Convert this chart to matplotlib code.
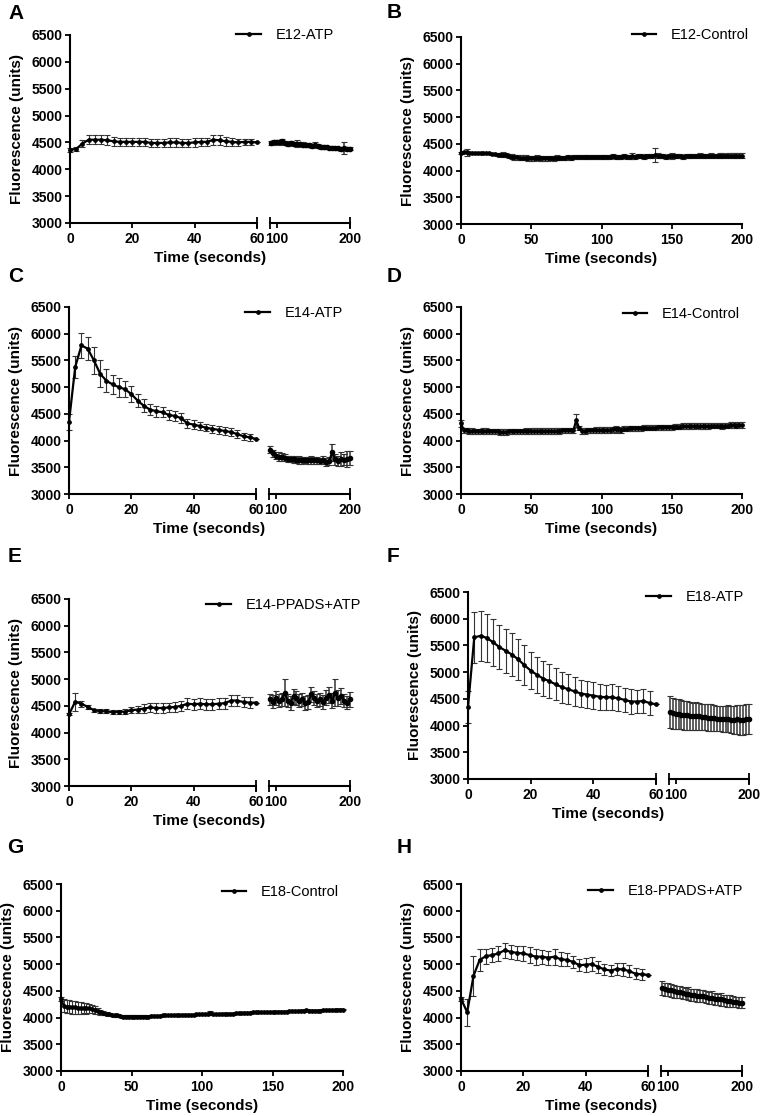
import numpy as np
import matplotlib
matplotlib.use('Agg')
from matplotlib import pyplot as plt

plt.rcParams['font.family'] = ['Liberation Sans', 'DejaVu Sans']
plt.rcParams['font.weight'] = 'bold'

# time points (s)
T_SHORT = np.arange(0, 61, 2)      # 0..60, first segment of broken axes
T_LATE = np.arange(92, 201, 4)     # late segment of broken axes
T_FULL = np.arange(0, 201, 2)      # control recordings

# A: E12-ATP
A1 = [4360, 4380, 4480, 4550, 4550, 4550, 4540, 4520, 4510, 4510, 4510, 4510, 4510, 4490, 4490, 4490,
      4500, 4500, 4490, 4490, 4500, 4510, 4510, 4550, 4540, 4520, 4510, 4500, 4510, 4510, 4500]
A1_ERR = [30, 40, 60, 80, 80, 80, 90, 80, 80, 80, 80, 80, 80, 70, 80, 80, 90, 90, 80, 80, 80, 80, 80, 90,
          90, 80, 70, 60, 60, 60, 0]
A2 = [4490, 4500, 4510, 4500, 4520, 4490, 4480, 4490, 4470, 4480, 4470, 4460, 4450, 4450, 4440, 4460,
      4430, 4420, 4420, 4410, 4400, 4400, 4390, 4390, 4380, 4400, 4380, 4380]
A2_ERR = [40, 40, 40, 40, 50, 40, 40, 40, 40, 60, 40, 40, 40, 40, 40, 40, 40, 40, 40, 30, 30, 30, 30, 30,
          40, 110, 40, 30]

# B: E12-Control
B = [4330, 4340, 4340, 4330, 4330, 4320, 4320, 4320, 4320, 4320, 4320, 4310, 4310, 4300, 4300, 4300,
     4290, 4270, 4260, 4250, 4250,
     4240, 4240, 4240, 4230, 4230, 4230, 4240, 4230, 4230, 4230, 4230, 4240, 4230, 4240, 4240,
     4240, 4240, 4250, 4240, 4250, 4250, 4250, 4250, 4250, 4260, 4250, 4260, 4260, 4260, 4260,
     4260, 4260, 4260, 4270, 4260, 4260, 4260, 4270, 4260, 4260, 4270, 4260, 4270, 4270, 4260, 4270,
     4270, 4270, 4290, 4280,
     4270, 4270, 4260, 4270, 4270, 4270, 4270, 4270, 4260, 4270, 4270, 4270, 4270, 4270, 4280, 4270,
     4270, 4270, 4280, 4270, 4270, 4280, 4280, 4270, 4280, 4280, 4280, 4280, 4280, 4280]
B_ERR = [20, 20, 70, 20, 15, 15, 15, 15, 15, 15, 15, 15, 20, 20, 20, 40,
         40, 40, 50, 50, 50,
         50, 50, 50, 50, 50, 50, 50, 50, 50, 50, 50, 40, 50, 50, 40,
         40, 40, 50, 40, 40, 40, 40, 40, 40, 40, 40, 40, 40, 40, 40,
         40, 40, 40, 40, 40, 40, 40, 40, 40, 40, 50, 40, 40, 40, 40, 40, 40, 40, 130, 50,
         40, 40, 40, 40, 50, 40, 40, 40, 40, 40, 40, 40, 40, 40, 40, 40, 40, 40, 40, 40,
         40, 40, 40, 40, 40, 40, 40, 40, 40, 40]

# C: E14-ATP
C1 = [4350, 5380, 5780, 5720, 5500, 5250, 5120, 5050, 5000, 4960, 4870, 4750, 4650, 4580, 4550, 4530,
      4480, 4460, 4420, 4320, 4300, 4270, 4240, 4220, 4200, 4180, 4160, 4120, 4080, 4060, 4030]
C1_ERR = [150, 200, 230, 220, 250, 250, 220, 180, 180, 150, 150, 130, 120, 100, 100, 90, 90, 90, 90, 80,
          80, 80, 70, 70, 70, 70, 70, 70, 70, 60, 0]
C2 = [3830, 3760, 3720, 3700, 3690, 3680, 3660, 3650, 3650, 3640, 3640, 3630, 3640, 3630, 3640, 3630,
      3630, 3620, 3640, 3600, 3620, 3780, 3650, 3620, 3660, 3640, 3660, 3680]
C2_ERR = [60, 60, 60, 80, 80, 60, 60, 60, 70, 60, 70, 60, 60, 60, 70, 60, 60, 60, 70, 70, 80, 160, 100,
          90, 130, 100, 150, 130]

# D: E14-Control
D = [4320, 4190, 4190, 4180, 4180, 4170, 4170, 4170, 4180, 4180, 4170,
     4170, 4170, 4170, 4160, 4160, 4160, 4170, 4170, 4170, 4170,
     4170, 4170, 4180, 4170, 4180, 4180, 4180, 4180, 4180, 4180,
     4180, 4180, 4180, 4180, 4180, 4190, 4190, 4190, 4190, 4190,
     4380, 4240, 4180, 4180, 4190, 4190, 4190, 4200, 4200, 4200,
     4200, 4200, 4200, 4210, 4210, 4210, 4200, 4220, 4220, 4230,
     4230, 4230, 4230, 4230, 4240, 4240, 4240, 4240, 4240, 4250,
     4250, 4250, 4250, 4250, 4250, 4260, 4260, 4260, 4270, 4270,
     4270, 4270, 4270, 4280, 4270, 4270, 4270, 4270, 4280, 4280,
     4280, 4280, 4270, 4280, 4280, 4290, 4290, 4280, 4290, 4290]
D_ERR = [60, 50, 50, 50, 50, 50, 50, 50, 50, 50, 50,
         50, 50, 50, 50, 50, 50, 50, 50, 50, 50,
         50, 50, 50, 50, 50, 50, 50, 50, 50, 50,
         50, 50, 50, 50, 50, 50, 50, 50, 50, 50,
         120, 40, 50, 50, 50, 50, 50, 50, 50, 50,
         50, 50, 50, 50, 70, 50, 50, 50, 50, 50,
         50, 50, 50, 50, 50, 50, 50, 50, 50, 50,
         50, 50, 50, 50, 50, 50, 50, 50, 50, 50,
         50, 50, 50, 50, 50, 50, 50, 50, 50, 50,
         50, 50, 50, 50, 50, 50, 50, 50, 50, 50]

# E: E14-PPADS+ATP
E1 = [4340, 4580, 4540, 4480, 4420, 4400, 4400, 4380, 4390, 4390, 4420, 4430, 4450, 4470, 4460, 4460,
      4470, 4480, 4500, 4540, 4530, 4540, 4530, 4530, 4540, 4550, 4600, 4600, 4570, 4560, 4560]
E1_ERR = [20, 170, 60, 30, 30, 40, 40, 40, 40, 50, 60, 70, 80, 90, 90, 90, 90, 90, 90, 100, 100, 100, 100,
          100, 100, 100, 110, 110, 100, 100, 0]
E2 = [4620, 4580, 4650, 4600, 4620, 4750, 4600, 4560, 4680, 4640, 4600, 4620, 4560, 4580, 4720, 4640,
      4600, 4620, 4580, 4650, 4700, 4600, 4750, 4640, 4680, 4600, 4560, 4620]
E2_ERR = [110, 120, 130, 120, 120, 250, 130, 130, 140, 130, 120, 130, 130, 130, 140, 130, 120, 130, 130,
          140, 150, 140, 250, 150, 150, 130, 120, 140]

# F: E18-ATP
F1 = [4350, 5650, 5680, 5640, 5560, 5470, 5400, 5330, 5240, 5130, 5030, 4950, 4880, 4830, 4770, 4720,
      4680, 4640, 4600, 4580, 4560, 4540, 4530, 4530, 4510, 4480, 4450, 4450, 4460, 4420, 4400]
F1_ERR = [300, 480, 470, 450, 440, 420, 410, 400, 380, 370, 350, 340, 330, 320, 300, 290, 280, 270, 260,
          250, 250, 240, 230, 240, 230, 230, 230, 220, 230, 230, 0]
F2 = [4250, 4230, 4210, 4220, 4200, 4190, 4190, 4180, 4170, 4180, 4170, 4160, 4160, 4150, 4150, 4140,
      4130, 4130, 4120, 4120, 4130, 4110, 4110, 4120, 4100, 4110, 4120, 4130]
F2_ERR = [300, 290, 280, 280, 270, 270, 270, 260, 260, 260, 260, 250, 250, 250, 250, 250, 240, 240, 240,
          240, 250, 250, 260, 270, 280, 280, 280, 280]

# G: E18-Control
G = [4350, 4220, 4200, 4200, 4190, 4190, 4180, 4180, 4180, 4170, 4170,
     4160, 4140, 4120, 4100, 4080, 4070, 4060, 4050, 4040, 4040,
     4030, 4020, 4020, 4020, 4020, 4020, 4020, 4020, 4020, 4020,
     4020, 4030, 4030, 4030, 4030, 4040, 4040, 4040, 4040, 4040,
     4050, 4040, 4050, 4050, 4050, 4050, 4050, 4060, 4060, 4060,
     4060, 4070, 4090, 4060, 4060, 4060, 4070, 4070, 4070, 4070,
     4070, 4080, 4080, 4080, 4090, 4090, 4090, 4100, 4100, 4100,
     4100, 4100, 4100, 4100, 4100, 4110, 4110, 4110, 4110, 4110,
     4120, 4120, 4120, 4120, 4130, 4130, 4140, 4130, 4130, 4130,
     4130, 4130, 4140, 4140, 4140, 4140, 4140, 4150, 4150, 4150]
G_ERR = [40, 120, 120, 120, 120, 120, 110, 110, 100, 100, 90,
         80, 70, 60, 50, 40, 30, 25, 20, 20, 20,
         20, 20, 20, 20, 20, 20, 20, 20, 20, 20,
         15, 15, 15, 15, 15, 15, 15, 15, 15, 15,
         15, 15, 15, 15, 15, 15, 15, 15, 15, 15,
         15, 15, 40, 15, 15, 15, 15, 15, 15, 15,
         15, 15, 15, 15, 15, 15, 15, 15, 15, 15,
         15, 15, 15, 15, 15, 15, 15, 15, 15, 15,
         15, 15, 15, 15, 15, 15, 15, 15, 15, 15,
         15, 15, 15, 15, 15, 15, 15, 15, 15, 15]

# H: E18-PPADS+ATP
H1 = [4350, 4100, 4780, 5080, 5150, 5170, 5200, 5260, 5230, 5210, 5200, 5170, 5140, 5140, 5120, 5140,
      5090, 5080, 5040, 4980, 4990, 5000, 4950, 4900, 4880, 4910, 4900, 4870, 4820, 4810, 4800]
H1_ERR = [40, 250, 380, 200, 140, 130, 140, 140, 130, 130, 140, 150, 150, 130, 130, 150, 130, 120, 110,
          110, 130, 130, 110, 110, 110, 120, 120, 110, 100, 100, 0]
H2 = [4560, 4530, 4520, 4510, 4490, 4480, 4480, 4460, 4450, 4450, 4420, 4420, 4410, 4400, 4400, 4380,
      4370, 4370, 4350, 4340, 4340, 4320, 4310, 4310, 4300, 4290, 4280, 4280]
H2_ERR = [130, 120, 120, 120, 120, 110, 110, 110, 110, 120, 110, 110, 120, 110, 110, 110, 110, 120, 110,
          110, 120, 110, 110, 110, 110, 100, 110, 100]

Y_TICKS = [3000, 3500, 4000, 4500, 5000, 5500, 6000, 6500]

W, H = 761, 1116
fig = plt.figure(figsize=(W / 100, H / 100), dpi=100)


def px_axes(left, right, top, bottom):
    return fig.add_axes([left / W, 1 - bottom / H, (right - left) / W, (bottom - top) / H])


def style(ax, yaxis=True):
    for s in ['top', 'right']:
        ax.spines[s].set_visible(False)
    ax.spines['bottom'].set_linewidth(1.5)
    ax.spines['left'].set_linewidth(1.5)
    ax.patch.set_alpha(0)
    ax.set_ylim(3000, 6500)
    ax.tick_params(which='major', direction='out', length=3.5, width=1.3, labelsize=10, pad=2)
    ax.tick_params(axis='x', which='major', pad=3)
    ax.tick_params(which='minor', direction='inout', length=8, width=1.3)
    if yaxis:
        ax.set_yticks(Y_TICKS)
    else:
        ax.spines['left'].set_visible(False)
        ax.tick_params(axis='y', which='both', left=False, labelleft=False)


def draw(ax, t, y, e, dense=False):
    ax.errorbar(t, y, yerr=e, fmt='none', ecolor='#333333', elinewidth=1.1 if dense else 0.8,
                capsize=2.0, capthick=0.8, clip_on=False, zorder=2)
    line, = ax.plot(t, y, color='black', lw=1.6, marker='o', ms=3.0 if dense else 2.4,
                    clip_on=False, zorder=3)
    return line


def labels(letter, name, line, left, right, top, bottom, lx, ly, leg_x, leg_y):
    fig.text(lx / W, 1 - ly / H, letter, fontsize=15, fontweight='bold', ha='left', va='top')
    fig.text((left + right) / 2 / W, 1 - (bottom + 35) / H, 'Time (seconds)',
             fontsize=11, ha='center', va='center')
    fig.text((left - 53) / W, 1 - (top + bottom) / 2 / H, 'Fluorescence (units)',
             fontsize=11, rotation=90, ha='center', va='center')
    fig.legend([line], [name], loc='center right', bbox_to_anchor=(leg_x / W, 1 - leg_y / H),
               bbox_transform=fig.transFigure, frameon=False, borderaxespad=0, borderpad=0,
               handlelength=1.7, handletextpad=1.0, prop={'weight': 'normal', 'size': 10.5})


def broken_panel(letter, name, pos, s1, e1, s2, e2, lpos, legpos):
    left, mid1, mid2, right, top, bottom = pos
    ax1 = px_axes(left, mid1, top, bottom)
    ax2 = px_axes(mid2, right, top, bottom)
    style(ax1)
    style(ax2, yaxis=False)
    ax1.set_xlim(0, 60)
    ax2.set_xlim(91, 200)
    ax1.set_xticks([0, 20, 40, 60])
    ax1.set_xticks([60], minor=True)
    ax2.set_xticks([100, 200])
    ax2.set_xticks([91, 200], minor=True)
    ax1.xaxis.remove_overlapping_locs = False
    ax2.xaxis.remove_overlapping_locs = False
    line = draw(ax1, T_SHORT, s1, e1)
    draw(ax2, T_LATE, s2, e2, dense=True)
    labels(letter, name, line, left, right, top, bottom, lpos[0], lpos[1], legpos[0], legpos[1])


def full_panel(letter, name, pos, y, e, lpos, legpos):
    left, right, top, bottom = pos
    ax = px_axes(left, right, top, bottom)
    style(ax)
    ax.set_xlim(0, 200)
    ax.set_xticks([0, 50, 100, 150, 200])
    line = draw(ax, T_FULL, y, e)
    labels(letter, name, line, left, right, top, bottom, lpos[0], lpos[1], legpos[0], legpos[1])


broken_panel('A', 'E12-ATP', (70, 257, 270, 350, 35, 223), A1, A1_ERR, A2, A2_ERR, (8, 4), (334, 35))
full_panel('B', 'E12-Control', (461, 742, 37, 224), B, B_ERR, (387, 3), (749, 35))
broken_panel('C', 'E14-ATP', (69, 256, 269, 350, 307, 494), C1, C1_ERR, C2, C2_ERR, (8, 267), (343, 313))
full_panel('D', 'E14-Control', (461, 742, 307, 494), D, D_ERR, (387, 267), (740, 314))
broken_panel('E', 'E14-PPADS+ATP', (69, 256, 269, 350, 599, 786), E1, E1_ERR, E2, E2_ERR, (8, 547), (361, 605))
broken_panel('F', 'E18-ATP', (468, 656, 669, 749, 592, 779), F1, F1_ERR, F2, F2_ERR, (387, 547), (744, 597))
full_panel('G', 'E18-Control', (61, 343, 884, 1071), G, G_ERR, (7, 838), (339, 892))
broken_panel('H', 'E18-PPADS+ATP', (461, 648, 661, 742, 884, 1071), H1, H1_ERR, H2, H2_ERR, (397, 838), (743, 891))

fig.savefig('out.png', dpi=100)
